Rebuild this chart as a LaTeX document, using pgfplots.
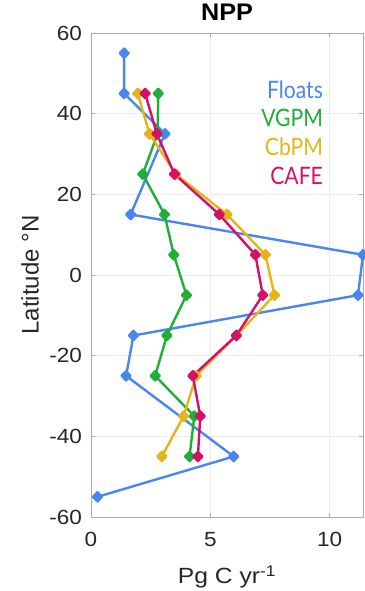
\documentclass[border=0pt]{standalone}
\usepackage{pgfplots}
\pgfplotsset{compat=1.18}
\usepackage{fontspec}
\setmainfont{Liberation Sans}
\newfontfamily\legfont{Lato}
\definecolor{cFloats}{RGB}{72,135,240}
\definecolor{cVGPM}{RGB}{30,175,55}
\definecolor{cCbPM}{RGB}{230,180,25}
\definecolor{cCAFE}{RGB}{212,16,104}
\definecolor{tickgray}{RGB}{38,38,38}
\begin{document}
\begin{tikzpicture}
\useasboundingbox (-91pt,-74pt) rectangle (273pt,517pt);
\begin{axis}[
  at={(0,0)}, anchor=south west,
  scale only axis, width=272pt, height=484pt,
  xmin=0, xmax=11.4, ymin=-60, ymax=60,
  xtick={0,5,10}, ytick={-60,-40,...,60},
  grid=major, major grid style={gray!15, line width=0.5pt},
  axis line style={gray!65, line width=0.9pt},
  tick style={gray!65, line width=0.6pt},
  tick align=inside, major tick length=4pt,
  /pgf/number format/assume math mode=true,
  ticklabel style={font=\fontsize{20.5}{22}\selectfont, text=tickgray, inner sep=0pt, xscale=1.1},
  yticklabel style={xshift=-8pt},
  xticklabel style={yshift=-15pt},
  title={\textbf{NPP}},
  title style={at={(axis description cs:0.5,1.014)}, anchor=base, font=\fontsize{24}{26}\selectfont, xscale=1.05},
  xlabel={Pg C yr\textsuperscript{-1}},
  xlabel style={at={(axis description cs:0.5,-0.138)}, anchor=base, font=\fontsize{22}{24}\selectfont, text=tickgray, xscale=1.12},
  ylabel={Latitude °N},
  ylabel style={at={(axis description cs:-0.224,0.5)}, anchor=center, font=\fontsize{24}{26}\selectfont, text=tickgray},
  every axis plot/.append style={line width=2.4pt, mark=diamond*, mark size=4.6pt, mark options={solid, xscale=1.3, line join=round}},
]
\addplot[color=cFloats] coordinates {
(1.39,55)(1.39,45)(3.10,35)(1.66,15)(11.4,5)(11.19,-5)(1.78,-15)(1.47,-25)(5.98,-45)(0.27,-55)};
\addplot[color=cVGPM] coordinates {
(2.82,45)(2.79,35)(2.17,25)(3.08,15)(3.47,5)(4.0,-5)(3.18,-15)(2.69,-25)(4.33,-35)(4.13,-45)};
\addplot[color=cCbPM] coordinates {
(1.96,45)(2.45,35)(3.55,25)(5.7,15)(7.31,5)(7.69,-5)(6.1,-15)(4.41,-25)(3.88,-35)(2.97,-45)};
\addplot[color=cCAFE] coordinates {
(2.27,45)(2.76,35)(3.50,25)(5.38,15)(6.89,5)(7.2,-5)(6.09,-15)(4.27,-25)(4.58,-35)(4.48,-45)};
\node[anchor=east, text=cFloats, font=\legfont\fontsize{24}{26}\selectfont, xscale=0.88] at (rel axis cs:0.864,0.882) {Floats};
\node[anchor=east, text=cVGPM, font=\legfont\fontsize{24}{26}\selectfont, xscale=0.88] at (rel axis cs:0.864,0.824) {VGPM};
\node[anchor=east, text=cCbPM, font=\legfont\fontsize{24}{26}\selectfont, xscale=0.88] at (rel axis cs:0.864,0.764) {CbPM};
\node[anchor=east, text=cCAFE, font=\legfont\fontsize{24}{26}\selectfont, xscale=0.88] at (rel axis cs:0.864,0.704) {CAFE};
\end{axis}
\end{tikzpicture}
\end{document}
